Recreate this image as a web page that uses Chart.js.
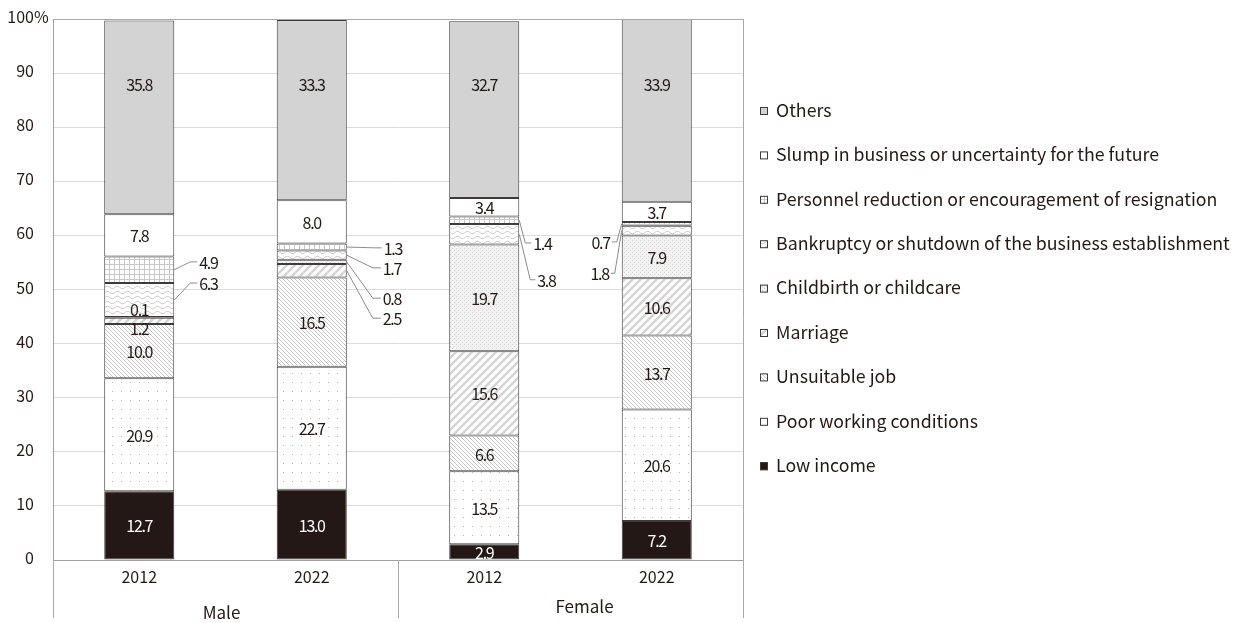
<!DOCTYPE html>
<html>
<head>
<meta charset="utf-8">
<script src="https://cdn.jsdelivr.net/npm/chart.js@4.4.1/dist/chart.umd.min.js"></script>
<style>
  html, body { margin: 0; padding: 0; background: #fff; }
  #chart { display: block; }
</style>
</head>
<body>
<canvas id="chart" width="1242" height="623"></canvas>
<script>
// categories
const years = ['2012', '2022', '2012', '2022'];
const groups = ['Male', 'Female'];
const yTicks = [0, 10, 20, 30, 40, 50, 60, 70, 80, 90, 100];

// series values (%), bottom to top of each bar
const lowIncome          = [12.7, 13.0, 2.9, 7.2];
const poorConditions     = [20.9, 22.7, 13.5, 20.6];
const unsuitableJob      = [10.0, 16.5, 6.6, 13.7];
const marriage           = [1.2, 2.5, 15.6, 10.6];
const childbirth         = [0.1, 0.8, 19.7, 7.9];
const bankruptcy         = [6.3, 1.7, 3.8, 1.8];
const personnelReduction = [4.9, 1.3, 1.4, 0.7];
const slump              = [7.8, 8.0, 3.4, 3.7];
const others             = [35.8, 33.3, 32.7, 33.9];

const seriesNames = [
  'Low income',
  'Poor working conditions',
  'Unsuitable job',
  'Marriage',
  'Childbirth or childcare',
  'Bankruptcy or shutdown of the business establishment',
  'Personnel reduction or encouragement of resignation',
  'Slump in business or uncertainty for the future',
  'Others'
];
const seriesValues = [lowIncome, poorConditions, unsuitableJob, marriage, childbirth,
  bankruptcy, personnelReduction, slump, others];

const FONT = '"Noto Sans CJK JP", "Noto Sans", sans-serif';
const INK = '#231815';

function makePattern(w, h, draw) {
  const c = document.createElement('canvas');
  c.width = w; c.height = h;
  const g = c.getContext('2d');
  g.fillStyle = '#fff';
  g.fillRect(0, 0, w, h);
  draw(g, w, h);
  return g.createPattern(c, 'repeat');
}

const fills = [
  '#231815',
  makePattern(9, 9, g => { g.fillStyle = '#b5b5b5'; g.fillRect(4, 4, 1, 1); }),
  makePattern(4, 4, g => {
    g.strokeStyle = '#c6c6c6'; g.lineWidth = 1;
    g.beginPath();
    g.moveTo(-1, -1); g.lineTo(5, 5);
    g.moveTo(-1, 3); g.lineTo(1, 5);
    g.moveTo(3, -1); g.lineTo(5, 1);
    g.stroke();
  }),
  makePattern(8, 8, g => {
    g.strokeStyle = '#d4d4d4'; g.lineWidth = 2.5;
    g.beginPath();
    g.moveTo(-1, 9); g.lineTo(9, -1);
    g.moveTo(-5, 5); g.lineTo(5, -5);
    g.moveTo(3, 13); g.lineTo(13, 3);
    g.stroke();
  }),
  makePattern(4, 4, g => {
    g.fillStyle = '#f2f2f2'; g.fillRect(0, 0, 4, 4);
    g.fillStyle = '#d2d2d2'; g.fillRect(0, 0, 1, 1); g.fillRect(2, 2, 1, 1);
  }),
  makePattern(10, 5, g => {
    g.strokeStyle = '#cfcfcf'; g.lineWidth = 1;
    g.beginPath();
    for (let x = 0; x <= 10; x++) {
      const y = 2.5 + 1.3 * Math.sin(x / 10 * Math.PI * 2);
      if (x === 0) g.moveTo(x, y); else g.lineTo(x, y);
    }
    g.stroke();
  }),
  makePattern(5, 5, g => {
    g.fillStyle = '#c8c8c8';
    g.fillRect(0, 4, 5, 1);
    g.fillRect(4, 0, 1, 5);
  }),
  '#ffffff',
  '#d3d3d4'
];

// labels that sit outside the bar with a leader line
const callouts = [
  { s: 6, b: 0, at: 55.1, side: 1, bend: 16, end: 23 },
  { s: 5, b: 0, at: 51.2, side: 1, bend: 16, end: 23 },
  { s: 6, b: 1, at: 57.7, side: 1, bend: 28, end: 35 },
  { s: 5, b: 1, at: 54.0, side: 1, bend: 26, end: 34 },
  { s: 4, b: 1, at: 48.4, side: 1, bend: 26, end: 34 },
  { s: 3, b: 1, at: 44.7, side: 1, bend: 26, end: 34 },
  { s: 6, b: 2, at: 58.6, side: 1, bend: 6, end: 12 },
  { s: 5, b: 2, at: 51.8, side: 1, bend: 11, end: 16 },
  { s: 6, b: 3, at: 58.8, side: -1, bend: 5, end: 10 },
  { s: 5, b: 3, at: 53.0, side: -1, bend: 7, end: 11 }
];
// inside labels not centred in their segment
const labelShift = { '8-0': 88, '8-1': 88, '8-2': 88, '8-3': 88, '4-0': 46.4, '3-0': 42.9 };

const labelPlugin = {
  id: 'labels',
  afterDatasetsDraw(chart) {
    const ctx = chart.ctx;
    const yScale = chart.scales.y;
    ctx.save();
    ctx.font = '16px ' + FONT;
    ctx.letterSpacing = '-1.3px';
    ctx.textBaseline = 'middle';
    seriesValues.forEach((vals, s) => {
      const meta = chart.getDatasetMeta(s);
      vals.forEach((v, b) => {
        const bar = meta.data[b];
        const text = v.toFixed(1);
        const co = callouts.find(c => c.s === s && c.b === b);
        if (co) {
          const edge = bar.x + co.side * bar.width / 2;
          const segY = (bar.y + bar.base) / 2;
          const ly = yScale.getPixelForValue(co.at);
          ctx.strokeStyle = '#8c8c8c';
          ctx.lineWidth = 1;
          ctx.beginPath();
          ctx.moveTo(edge, segY);
          ctx.lineTo(edge + co.side * co.bend, ly);
          ctx.lineTo(edge + co.side * co.end, ly);
          ctx.stroke();
          ctx.fillStyle = INK;
          ctx.textAlign = co.side > 0 ? 'left' : 'right';
          ctx.fillText(text, edge + co.side * (co.end + 2), ly + 1);
          return;
        }
        const key = s + '-' + b;
        const y = key in labelShift ? yScale.getPixelForValue(labelShift[key]) : (bar.y + bar.base) / 2;
        ctx.fillStyle = s === 0 ? '#ffffff' : INK;
        ctx.textAlign = 'center';
        ctx.fillText(text, bar.x, y + 1);
      });
    });
    ctx.restore();
  },
  afterDraw(chart) {
    const ctx = chart.ctx;
    const area = chart.chartArea;
    const xScale = chart.scales.x;
    const yScale = chart.scales.y;
    ctx.save();
    // frame and category separators
    ctx.strokeStyle = '#a8a8a8';
    ctx.lineWidth = 1;
    const mid = (xScale.getPixelForValue(1) + xScale.getPixelForValue(2)) / 2;
    ctx.beginPath();
    ctx.moveTo(area.left + 0.5, area.top + 0.5); ctx.lineTo(area.right + 0.5, area.top + 0.5);
    ctx.moveTo(area.right + 0.5, area.top); ctx.lineTo(area.right + 0.5, area.bottom + 58);
    ctx.moveTo(area.left + 0.5, area.bottom); ctx.lineTo(area.left + 0.5, area.bottom + 58);
    ctx.moveTo(Math.round(mid) + 0.5, area.bottom); ctx.lineTo(Math.round(mid) + 0.5, area.bottom + 58);
    ctx.stroke();

    // y tick labels
    ctx.fillStyle = INK;
    ctx.font = '16px ' + FONT;
    ctx.textBaseline = 'middle';
    yTicks.forEach(t => {
      const y = yScale.getPixelForValue(t) - 2;
      ctx.textAlign = 'right';
      ctx.fillText(String(t), 34, y);
      if (t === 100) {
        ctx.textAlign = 'left';
        ctx.fillText('%', 34, y);
      }
    });

    // x labels
    ctx.textAlign = 'center';
    years.forEach((yr, i) => {
      ctx.fillText(yr, xScale.getPixelForValue(i), area.bottom + 17);
    });
    ctx.font = '17px ' + FONT;
    ctx.fillText(groups[0], (xScale.getPixelForValue(0) + xScale.getPixelForValue(1)) / 2 - 4, area.bottom + 53);
    ctx.fillText(groups[1], (xScale.getPixelForValue(2) + xScale.getPixelForValue(3)) / 2 + 14, area.bottom + 47);

    // legend, top item is the last series
    ctx.font = '17.75px ' + FONT;
    ctx.textAlign = 'left';
    for (let k = 0; k < seriesNames.length; k++) {
      const s = seriesNames.length - 1 - k;
      const y = 110 + k * 44.4;
      ctx.fillStyle = fills[s];
      ctx.fillRect(760, y - 3, 8, 8);
      ctx.strokeStyle = '#3e3a39';
      ctx.lineWidth = 1;
      ctx.strokeRect(760.5, y - 2.5, 7, 7);
      ctx.fillStyle = INK;
      ctx.fillText(seriesNames[s], 776, y);
    }
    ctx.restore();
  }
};

new Chart(document.getElementById('chart'), {
  type: 'bar',
  data: {
    labels: years,
    datasets: seriesValues.map((vals, i) => ({
      label: seriesNames[i],
      data: vals,
      backgroundColor: fills[i],
      borderColor: '#3e3a39',
      borderWidth: 1,
      borderSkipped: false,
      barPercentage: 0.406,
      categoryPercentage: 1
    }))
  },
  options: {
    responsive: false,
    animation: false,
    devicePixelRatio: 1,
    layout: { padding: { top: 19, right: 499, left: 0, bottom: 0 } },
    plugins: { legend: { display: false }, tooltip: { enabled: false } },
    scales: {
      x: {
        stacked: true,
        grid: { display: false },
        ticks: { display: false },
        border: { display: true, color: '#a0a0a0' },
        afterFit(scale) { scale.height = 63; }
      },
      y: {
        stacked: true,
        min: 0,
        max: 100,
        ticks: { display: false, stepSize: 10 },
        grid: { color: '#dcdcdc', drawTicks: false },
        border: { display: true, color: '#a0a0a0' },
        afterFit(scale) { scale.width = 53; }
      }
    }
  },
  plugins: [labelPlugin]
});
</script>
</body>
</html>
